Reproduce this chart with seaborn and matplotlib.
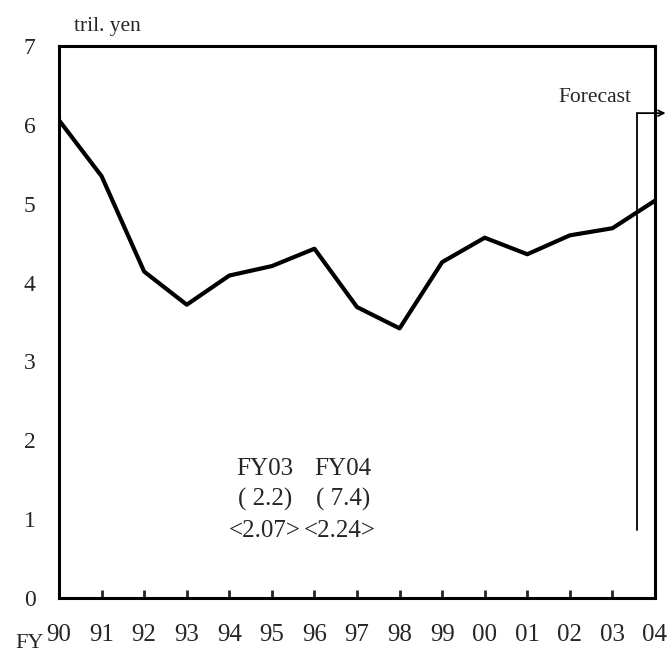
import pandas as pd
import matplotlib
matplotlib.use("Agg")
import matplotlib.pyplot as plt
import seaborn as sns

# datos
fy_labels = ["90", "91", "92", "93", "94", "95", "96", "97", "98", "99", "00", "01", "02", "03", "04"]
valores = [6.06, 5.35, 4.14, 3.72, 4.09, 4.21, 4.43, 3.69, 3.42, 4.26, 4.57, 4.36, 4.60, 4.69, 5.04]

df = pd.DataFrame({"pos": range(len(fy_labels)), "valor": valores})

sns.set_style("white")
plt.rcParams["font.family"] = ["Liberation Serif", "DejaVu Serif"]

fig = plt.figure(figsize=(6.67, 6.59), dpi=100)
ax = fig.add_axes([0.0885, 0.0926, 0.8935, 0.8374])

sns.lineplot(data=df, x="pos", y="valor", color="black", linewidth=3, ax=ax)

ax.set_xlim(0, 14)
ax.set_ylim(0, 7)
ax.set_xticks(range(len(fy_labels)))
ax.set_xticklabels(fy_labels, fontsize=18)
ax.set_yticks(range(8))
ax.set_yticklabels([str(i) for i in range(8)], fontsize=17)
ax.tick_params(axis="x", direction="in", length=6, width=2, pad=19, bottom=True)
ax.tick_params(axis="y", length=0, pad=17)
ax.set_xlabel("")
ax.set_ylabel("")
for s in ax.spines.values():
    s.set_linewidth(2.2)
    s.set_color("black")

# texto de unidades y FY
fig.text(0.161, 0.960, "tril. yen", fontsize=15.5, ha="center", va="center")
fig.text(0.044, 0.016, "FY", fontsize=16, ha="center", va="baseline")

# bloque de notas
ax.text(4.84, 1.56, "FY03", fontsize=18, ha="center", va="baseline")
ax.text(6.67, 1.56, "FY04", fontsize=18, ha="center", va="baseline")
ax.text(4.84, 1.17, "( 2.2)", fontsize=18, ha="center", va="baseline")
ax.text(6.67, 1.17, "( 7.4)", fontsize=18, ha="center", va="baseline")
ax.text(4.84, 0.77, "<2.07>", fontsize=18, ha="center", va="baseline")
ax.text(6.6, 0.77, "<2.24>", fontsize=18, ha="center", va="baseline")

# flecha de pronostico
ax.plot([13.58, 13.58], [0.86, 6.15], color="black", linewidth=1.3, clip_on=False)
ax.annotate("", xy=(14.25, 6.15), xytext=(13.58, 6.15),
            arrowprops=dict(arrowstyle="->", color="black", lw=1.3, shrinkA=0, shrinkB=0),
            annotation_clip=False)
ax.text(12.59, 6.35, "Forecast", fontsize=15.5, ha="center", va="center")

plt.savefig("out.png", dpi=100)
